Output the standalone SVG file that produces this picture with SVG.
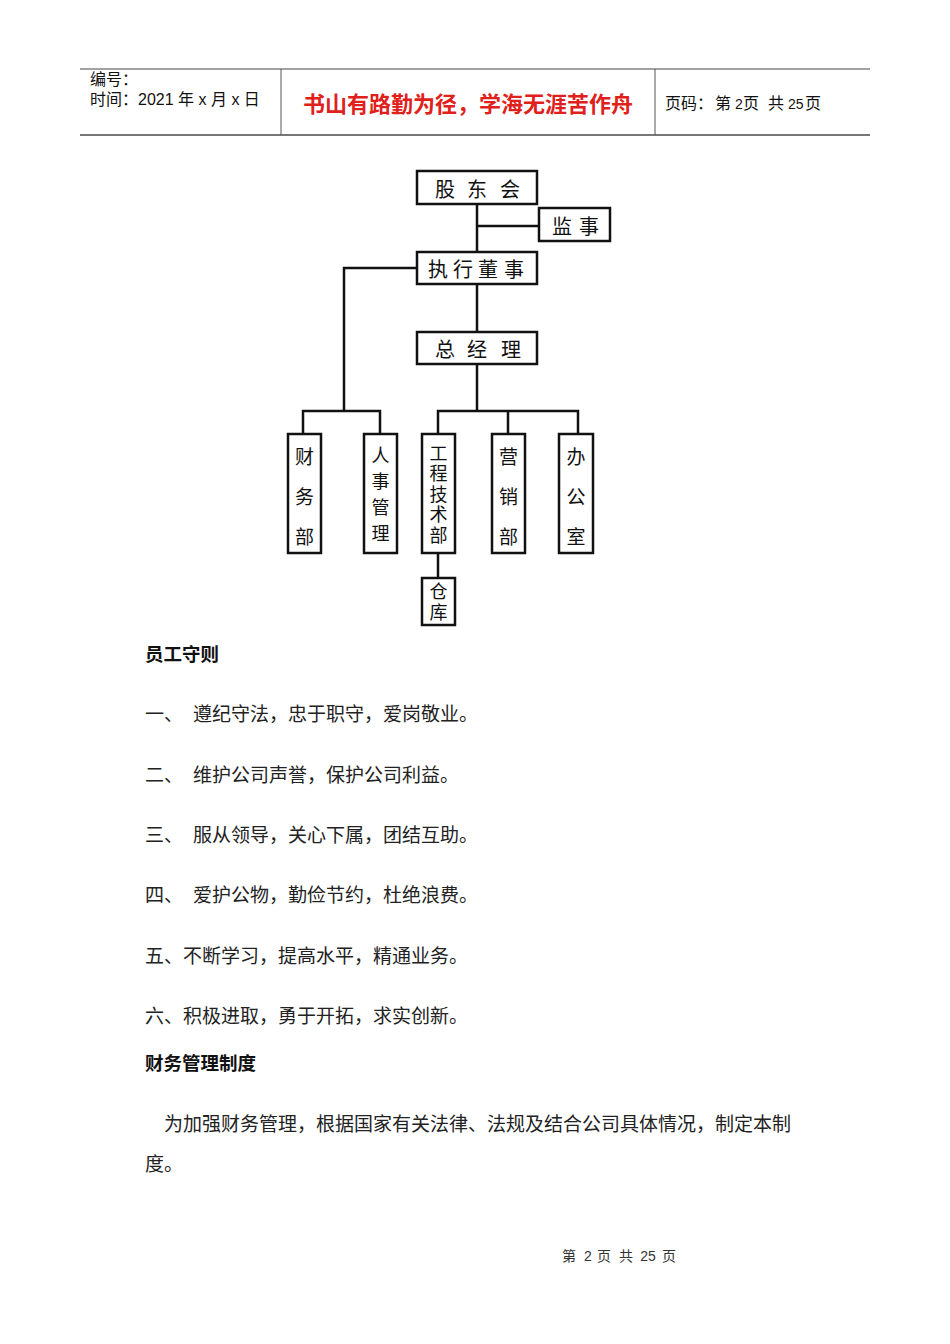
<svg xmlns="http://www.w3.org/2000/svg" width="950" height="1344" viewBox="0 0 950 1344">
<style>
.box{fill:#fff;stroke:#111;stroke-width:2.5}
.ln{fill:none;stroke:#111;stroke-width:2.5}
.lbl{font-family:"Noto Sans CJK SC",sans-serif;font-size:20px;fill:#111;text-anchor:middle;dominant-baseline:central}
.vl{font-family:"Noto Sans CJK SC",sans-serif;font-size:19px;fill:#111;text-anchor:middle;dominant-baseline:central}
.vt{font-family:"Noto Sans CJK SC",sans-serif;font-size:18px;fill:#111;writing-mode:vertical-rl}
.body{font-family:"Liberation Serif","Noto Sans CJK SC",serif;font-size:19px;fill:#222}
.h{font-family:"Noto Sans CJK SC",sans-serif;font-size:18.5px;font-weight:bold;fill:#111}
.hd{font-family:"Liberation Sans","Noto Sans CJK SC",sans-serif;font-size:16px;fill:#111}
.ft{font-family:"Liberation Sans","Noto Sans CJK SC",sans-serif;font-size:14px;fill:#333;text-anchor:middle}
</style>
<rect width="950" height="1344" fill="#fff"/>
<g id="header">
<line x1="80" y1="69" x2="870" y2="69" stroke="#444" stroke-width="1"/>
<line x1="80" y1="135" x2="870" y2="135" stroke="#777" stroke-width="2"/>
<line x1="281" y1="69" x2="281" y2="135" stroke="#555" stroke-width="1"/>
<line x1="655" y1="69" x2="655" y2="135" stroke="#555" stroke-width="1"/>
<text class="hd" x="90" y="85">编号：</text>
<text class="hd" x="90" y="105">时间：2021 年 x 月 x 日</text>
<text x="468" y="112" font-family="Noto Sans CJK SC,sans-serif" font-size="22px" font-weight="bold" fill="#e0201b" text-anchor="middle">书山有路勤为径，学海无涯苦作舟</text>
<text class="hd" x="665" y="109">页码：<tspan x="715">第</tspan><tspan x="735" font-size="14px">2</tspan><tspan x="743">页</tspan><tspan x="768">共</tspan><tspan x="788" font-size="14px">25</tspan><tspan x="805">页</tspan></text>
</g>
<g id="connectors">
<path class="ln" d="M477 204V252M477 226H539M417 268H344V411M303 434V411H380V434M477 284V332M477 364V411M438 434V411H578V434M508 411V434M438 553V578"/>
</g>
<g id="n-gudonghui"><rect class="box" x="417" y="171" width="120" height="33"/><text class="lbl" x="445" y="188">股</text><text class="lbl" x="477" y="188">东</text><text class="lbl" x="510" y="188">会</text></g>
<g id="n-jianshi"><rect class="box" x="539" y="208" width="71" height="33"/><text class="lbl" x="562" y="225">监</text><text class="lbl" x="589" y="225">事</text></g>
<g id="n-zhixing"><rect class="box" x="417" y="252" width="120" height="32"/><text class="lbl" x="438" y="268">执</text><text class="lbl" x="463" y="268">行</text><text class="lbl" x="488" y="268">董</text><text class="lbl" x="514" y="268">事</text></g>
<g id="n-zongjingli"><rect class="box" x="417" y="332" width="120" height="32"/><text class="lbl" x="445" y="348">总</text><text class="lbl" x="477" y="348">经</text><text class="lbl" x="511" y="348">理</text></g>
<g id="n-caiwu"><rect class="box" x="288" y="434" width="33" height="119"/><text class="vl" x="304.5" y="455">财</text><text class="vl" x="304.5" y="495">务</text><text class="vl" x="304.5" y="535">部</text></g>
<g id="n-renshi"><rect class="box" x="364" y="434" width="33" height="119"/><text class="vt" x="380.5" y="446" font-size="19px" letter-spacing="8">人事管理</text></g>
<g id="n-gongcheng"><rect class="box" x="422" y="434" width="33" height="119"/><text class="vt" x="438.5" y="444" letter-spacing="2.5">工程技术部</text></g>
<g id="n-yingxiao"><rect class="box" x="492" y="434" width="33" height="119"/><text class="vl" x="508.5" y="455">营</text><text class="vl" x="508.5" y="495">销</text><text class="vl" x="508.5" y="535">部</text></g>
<g id="n-bangong"><rect class="box" x="559" y="434" width="34" height="119"/><text class="vl" x="576" y="455">办</text><text class="vl" x="576" y="495">公</text><text class="vl" x="576" y="535">室</text></g>
<g id="n-cangku"><rect class="box" x="422" y="578" width="33" height="47"/><text class="vt" x="438.5" y="582" letter-spacing="3">仓库</text></g>
<g id="text">
<text class="h" x="145" y="661">员工守则</text>
<text class="body" x="145" y="721">一、</text><text class="body" x="193" y="721">遵纪守法，忠于职守，爱岗敬业。</text>
<text class="body" x="145" y="782">二、</text><text class="body" x="193" y="782">维护公司声誉，保护公司利益。</text>
<text class="body" x="145" y="842">三、</text><text class="body" x="193" y="842">服从领导，关心下属，团结互助。</text>
<text class="body" x="145" y="902">四、</text><text class="body" x="193" y="902">爱护公物，勤俭节约，杜绝浪费。</text>
<text class="body" x="145" y="963">五、不断学习，提高水平，精通业务。</text>
<text class="body" x="145" y="1023">六、积极进取，勇于开拓，求实创新。</text>
<text class="h" x="145" y="1070">财务管理制度</text>
<text class="body" x="164" y="1131">为加强财务管理，根据国家有关法律、法规及结合公司具体情况，制定本制</text>
<text class="body" x="145" y="1171">度。</text>
</g>
<g id="footer">
<text class="ft" x="569" y="1261">第</text><text class="ft" x="588" y="1261">2</text><text class="ft" x="604" y="1261">页</text><text class="ft" x="626" y="1261">共</text><text class="ft" x="648" y="1261">25</text><text class="ft" x="669" y="1261">页</text>
</g>
</svg>
